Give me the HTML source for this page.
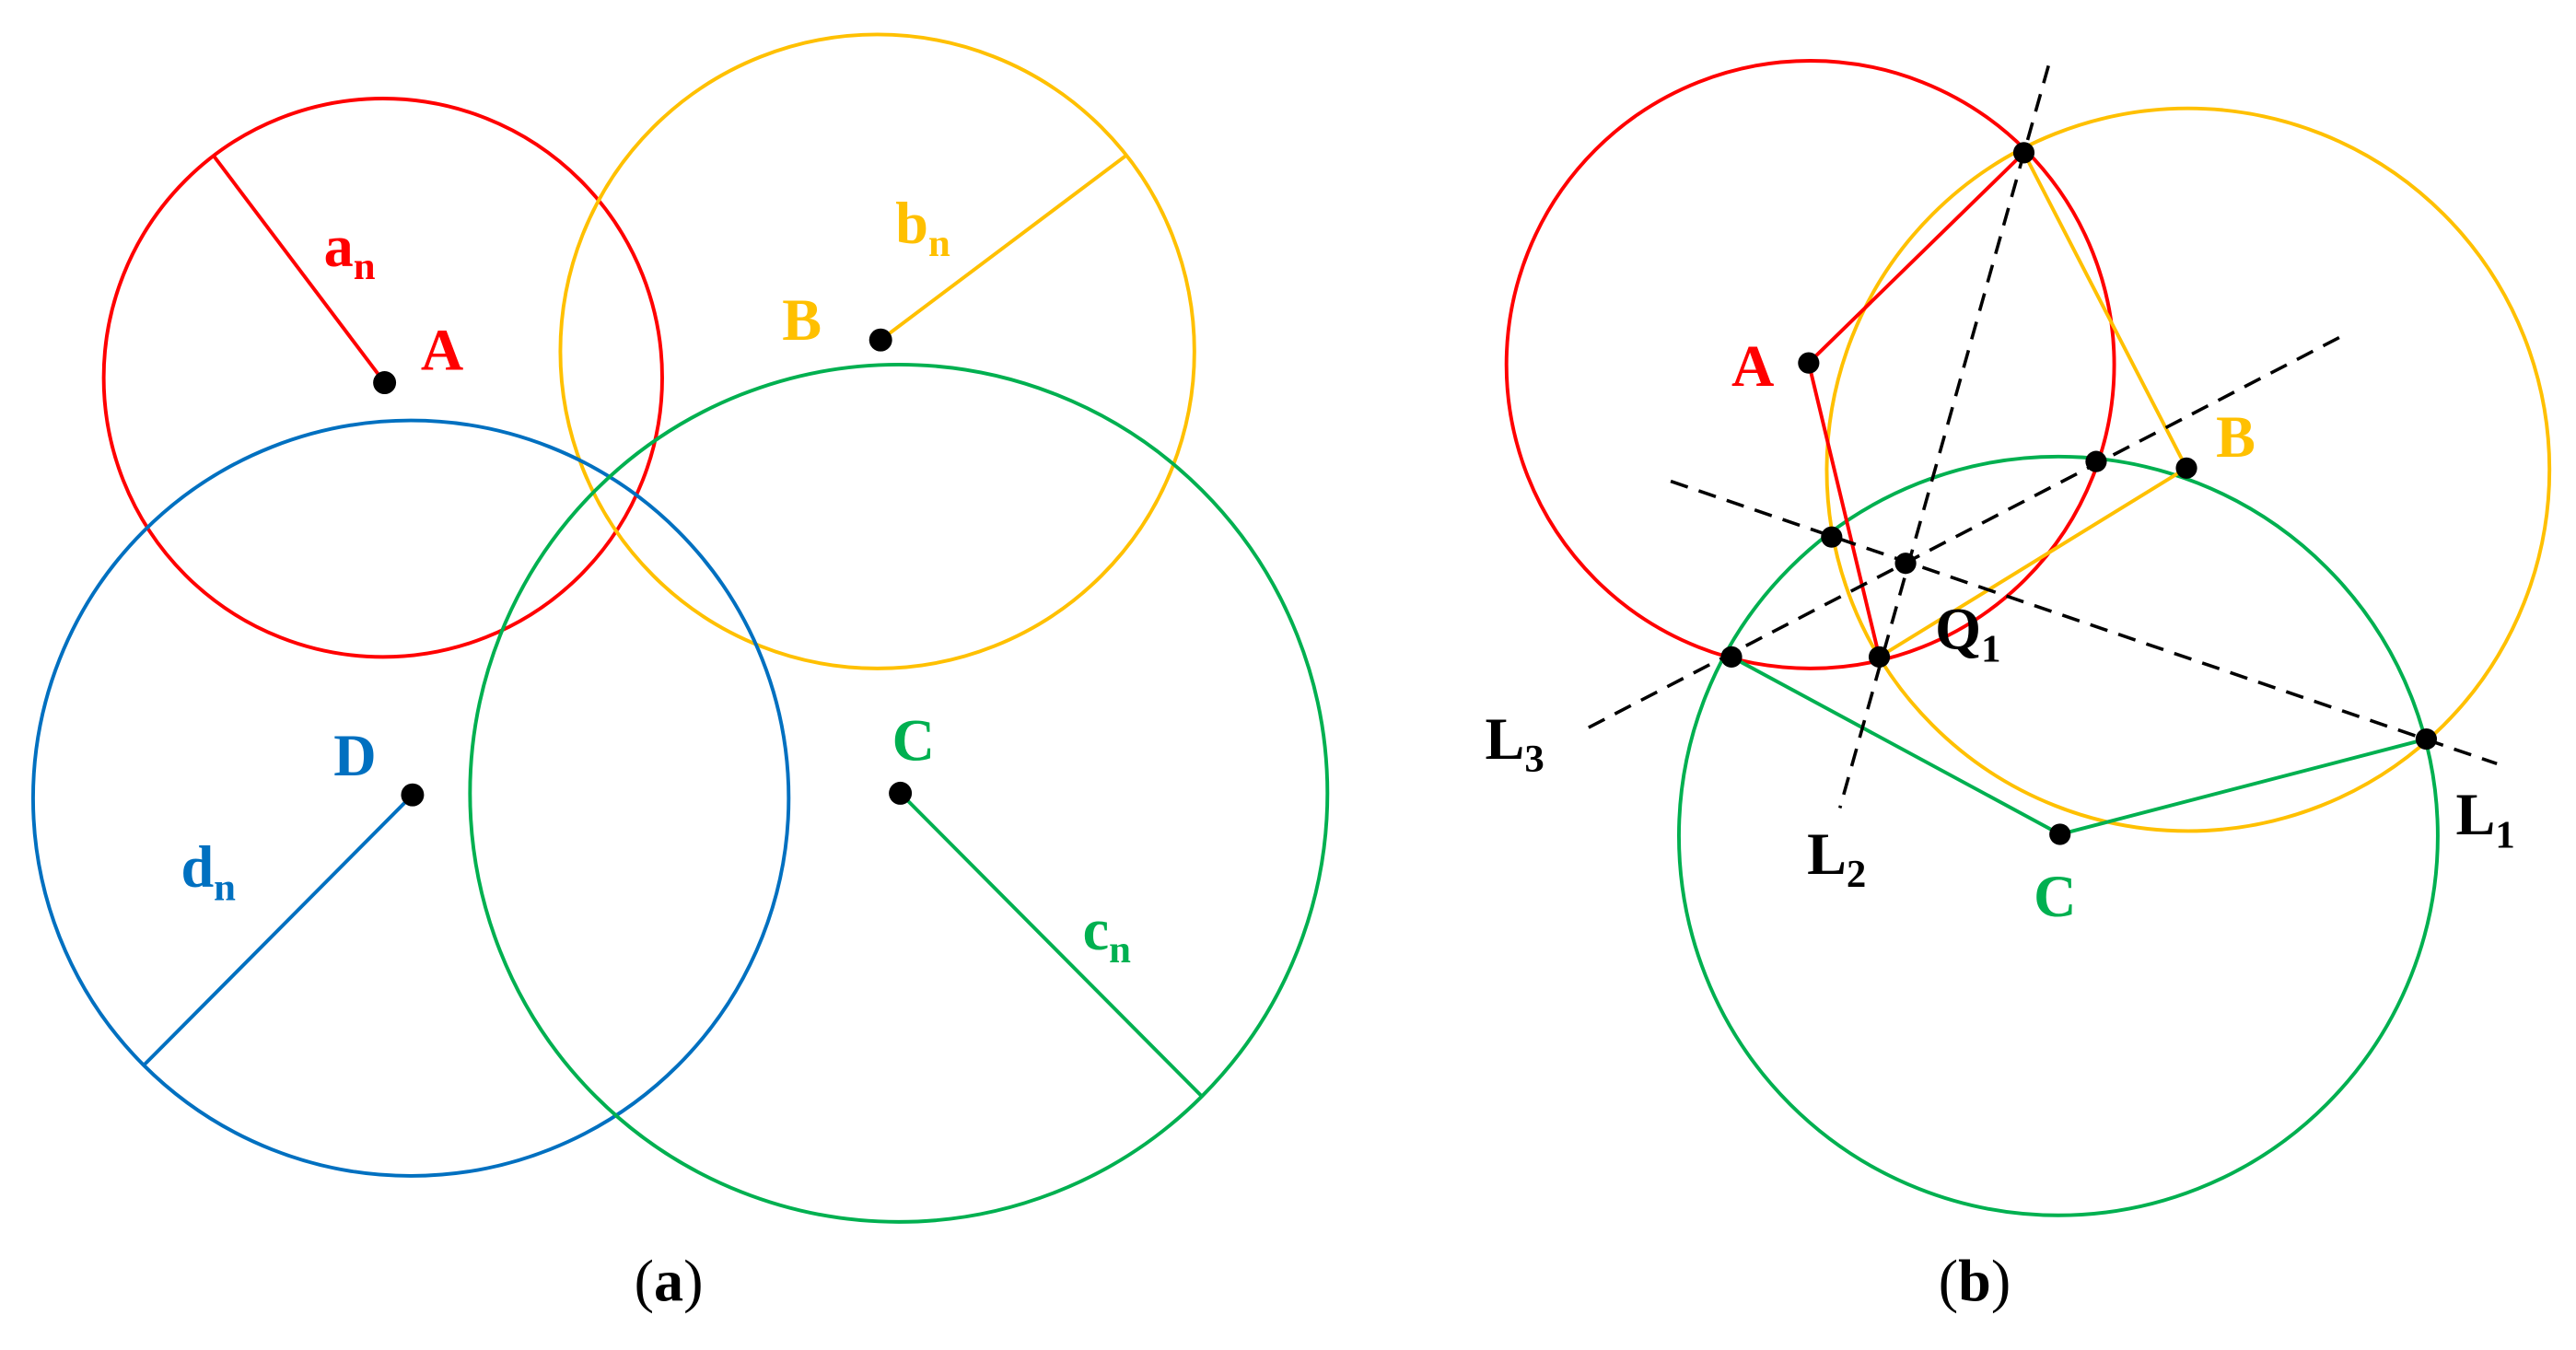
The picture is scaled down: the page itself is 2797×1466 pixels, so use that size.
<!DOCTYPE html>
<html><head><meta charset="utf-8"><style>
html,body{margin:0;padding:0;background:#fff;}
svg{display:block}
text{font-family:"Liberation Serif",serif;font-weight:bold;font-size:36px;}
.s{font-size:24px;}
</style></head><body>
<svg width="2797" height="1466" viewBox="0 0 1568 822" xmlns="http://www.w3.org/2000/svg">
<g fill="none" stroke-width="2.2">
<circle cx="233" cy="230" r="170" stroke="#ff0000"/>
<circle cx="534" cy="214" r="193" stroke="#ffc000"/>
<circle cx="250" cy="486" r="230" stroke="#0070c0"/>
<circle cx="547" cy="483" r="261" stroke="#00b050"/>
<line x1="130" y1="95" x2="234" y2="233" stroke="#ff0000"/>
<line x1="536" y1="207" x2="685" y2="95" stroke="#ffc000"/>
<line x1="251" y1="484" x2="88" y2="648" stroke="#0070c0"/>
<line x1="548" y1="483" x2="732" y2="668" stroke="#00b050"/>
<circle cx="1102" cy="222" r="185" stroke="#ff0000"/>
<circle cx="1332" cy="286" r="220" stroke="#ffc000"/>
<circle cx="1253" cy="509" r="231" stroke="#00b050"/>
<polyline points="1232,93 1101,221 1144,400" stroke="#ff0000"/>
<polyline points="1232,93 1331,285 1144,400" stroke="#ffc000"/>
<polyline points="1054,400 1254,508 1477,450" stroke="#00b050"/>
<g stroke="#000" stroke-dasharray="11,7" stroke-width="2">
<line x1="1247" y1="40" x2="1120" y2="492"/>
<line x1="967" y1="443" x2="1425" y2="205"/>
<line x1="1017" y1="293" x2="1520" y2="465"/>
</g>
</g>
<g fill="#000">
<circle cx="234" cy="233" r="7"/><circle cx="536" cy="207" r="7"/>
<circle cx="251" cy="484" r="7"/><circle cx="548" cy="483" r="7"/>
<circle cx="1101" cy="221" r="6.5"/><circle cx="1232" cy="93" r="6.5"/>
<circle cx="1331" cy="285" r="6.5"/><circle cx="1276" cy="281" r="6.5"/>
<circle cx="1115" cy="327" r="6.5"/><circle cx="1160" cy="343" r="6.5"/>
<circle cx="1144" cy="400" r="6.5"/><circle cx="1054" cy="400" r="6.5"/>
<circle cx="1477" cy="450" r="6.5"/><circle cx="1254" cy="508" r="6.5"/>
</g>
<text x="197" y="162" fill="#ff0000">a<tspan class="s" dy="8">n</tspan></text>
<text x="256" y="225" fill="#ff0000">A</text>
<text x="545" y="148" fill="#ffc000">b<tspan class="s" dy="8">n</tspan></text>
<text x="476" y="207" fill="#ffc000">B</text>
<text x="203" y="472" fill="#0070c0">D</text>
<text x="110" y="540" fill="#0070c0">d<tspan class="s" dy="8">n</tspan></text>
<text x="543" y="463" fill="#00b050">C</text>
<text x="659" y="578" fill="#00b050">c<tspan class="s" dy="8">n</tspan></text>
<text x="386" y="792" fill="#000" style="font-weight:normal">(<tspan style="font-weight:bold">a</tspan>)</text>
<text x="1054" y="235" fill="#ff0000">A</text>
<text x="1349" y="278" fill="#ffc000">B</text>
<text x="1178" y="395" fill="#000">Q<tspan class="s" dy="8">1</tspan></text>
<text x="904" y="462" fill="#000">L<tspan class="s" dy="8">3</tspan></text>
<text x="1100" y="532" fill="#000">L<tspan class="s" dy="8">2</tspan></text>
<text x="1495" y="508" fill="#000">L<tspan class="s" dy="8">1</tspan></text>
<text x="1238" y="558" fill="#00b050">C</text>
<text x="1180" y="792" fill="#000" style="font-weight:normal">(<tspan style="font-weight:bold">b</tspan>)</text>
</svg>
</body></html>
